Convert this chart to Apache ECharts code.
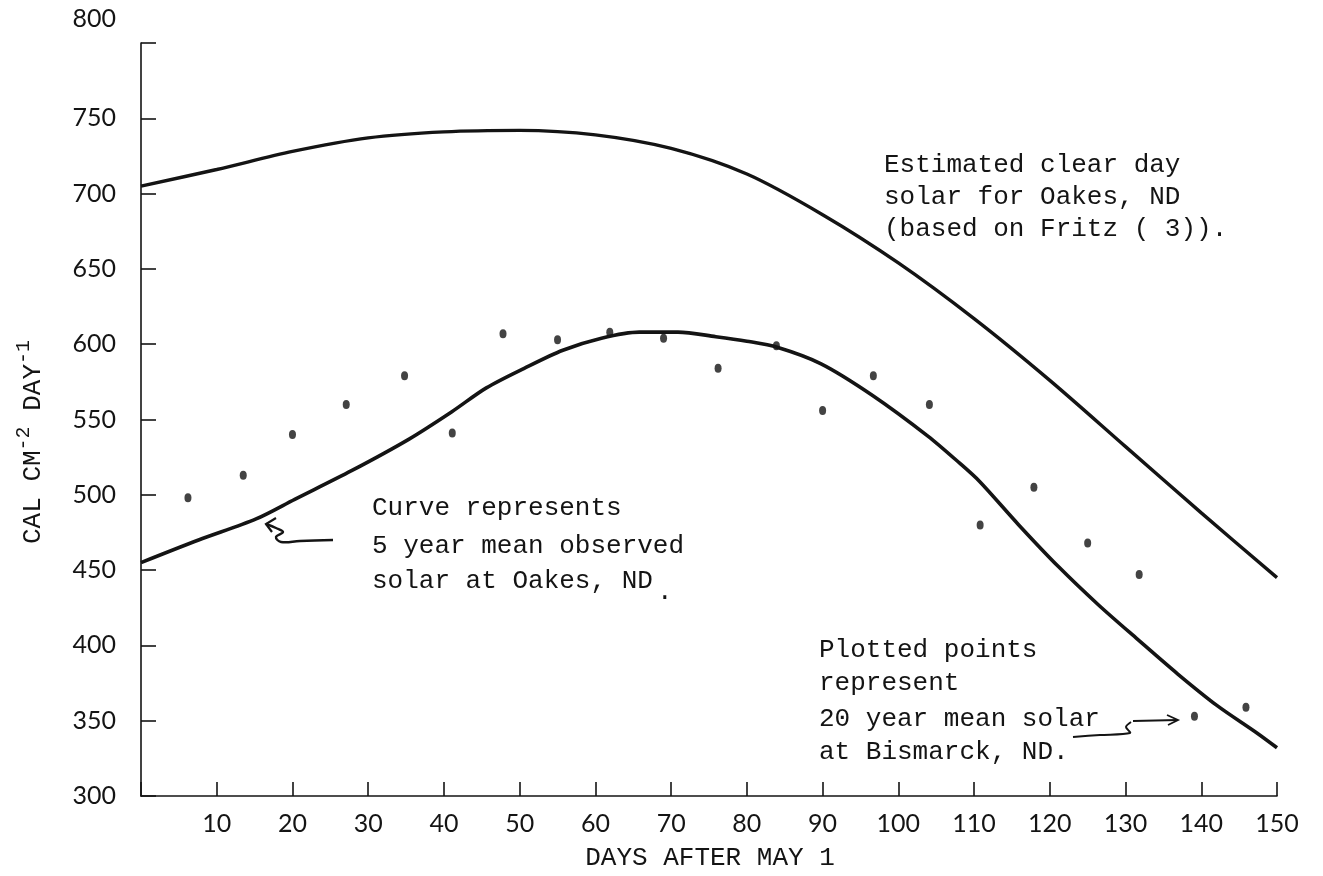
<!DOCTYPE html>
<html>
<head>
<meta charset="utf-8">
<script src="https://cdn.jsdelivr.net/npm/echarts@6/dist/echarts.min.js"></script>
<style>
html,body{margin:0;padding:0;background:#fff;}
#chart{width:1323px;height:876px;}
</style>
</head>
<body>
<div id="chart"></div>
<script>
// Bismarck 20-year mean solar (plotted points)
const pointDays = [6.2, 13.5, 20.0, 27.1, 34.8, 41.1, 47.8, 55.0, 61.9, 69.0, 76.2, 83.9, 90.0, 96.7, 104.1, 110.8, 117.9, 125.0, 131.8, 139.1, 145.9];
const pointVals = [498, 513, 540, 560, 579, 541, 607, 603, 608, 604, 584, 599, 556, 579, 560, 480, 505, 468, 447, 353, 359];

// Estimated clear day solar for Oakes, ND
const clearDays = [0, 10, 20, 30, 40, 50, 60, 70, 80, 90, 100, 110, 120, 130, 140, 150];
const clearVals = [705, 716, 728, 737, 741, 742, 739, 730, 713, 686, 654, 617, 576, 532, 488, 445];

// 5 year mean observed solar at Oakes, ND
const obsDays = [0, 7.6, 15.2, 20.3, 27.8, 35.4, 41, 45.6, 50.6, 55.7, 60.8, 65.8, 70.9, 75.9, 80, 84, 89.8, 96.6, 103.9, 108.1, 110.7, 115.9, 121.2, 126.4, 131.6, 136.9, 142.1, 147.3, 150];
const obsVals = [455, 470, 484, 497, 516, 537, 555, 571, 584, 596, 604, 608, 608, 605, 602, 598, 587, 566, 539, 521, 509, 480, 452, 427, 404, 381, 360, 342, 332];

const xTicks = {min: 0, max: 150, interval: 10};
const yTicks = {min: 300, max: 800, interval: 50};

const mono = "'Liberation Mono', 'DejaVu Sans Mono', monospace";
const sans = "Lato, 'Open Sans', sans-serif";
const ink = '#141414';
const noteFont = '26px ' + mono;

const zip = (a, b) => a.map((v, i) => [v, b[i]]);

const chart = echarts.init(document.getElementById('chart'), null, {renderer: 'canvas'});
chart.setOption({
  backgroundColor: '#ffffff',
  animation: false,
  grid: {left: 141, right: 46, top: 43, bottom: 80, outerBoundsMode: 'none'},
  xAxis: {
    type: 'value', min: xTicks.min, max: xTicks.max, interval: xTicks.interval,
    axisLine: {show: true, onZero: false, lineStyle: {color: ink, width: 1.6}},
    axisTick: {show: true, inside: true, length: 14, lineStyle: {color: ink, width: 1.6}},
    axisLabel: {
      margin: 15, color: ink, fontFamily: sans, fontSize: 25,
      formatter: v => (v === 0 ? '' : String(v))
    },
    splitLine: {show: false}
  },
  yAxis: {
    type: 'value', min: yTicks.min, max: yTicks.max, interval: yTicks.interval,
    axisLine: {show: true, onZero: false, lineStyle: {color: ink, width: 1.6}},
    axisTick: {show: true, inside: true, length: 15, lineStyle: {color: ink, width: 1.6}},
    axisLabel: {
      margin: 25, color: ink, fontFamily: sans, fontSize: 25,
      formatter: v => (v === 800 ? '{top|800}' : String(v)),
      rich: {top: {fontFamily: sans, fontSize: 25, color: ink, padding: [0, 0, 48, 0]}}
    },
    splitLine: {show: false}
  },
  series: [
    {
      name: 'Estimated clear day solar', type: 'line', data: zip(clearDays, clearVals),
      smooth: 0.3, showSymbol: false, lineStyle: {color: ink, width: 3.4}
    },
    {
      name: '5 year mean observed', type: 'line', data: zip(obsDays, obsVals),
      smooth: 0.3, showSymbol: false, lineStyle: {color: ink, width: 3.6}
    },
    {
      name: '20 year mean solar at Bismarck', type: 'scatter', data: zip(pointDays, pointVals),
      symbol: 'circle', symbolSize: [7, 9], itemStyle: {color: ink}
    }
  ],
  graphic: [
    {type: 'text', x: 710, y: 858, style: {text: 'DAYS AFTER MAY 1', font: '26px ' + mono, fill: ink, align: 'center', verticalAlign: 'middle'}},
    {type: 'text', x: 33, y: 442, rotation: Math.PI / 2,
      style: {
        text: '{a|CAL CM}{s|-2}{a| DAY}{s|-1}', fill: ink, align: 'center', verticalAlign: 'middle',
        rich: {
          a: {fontFamily: mono, fontSize: 26, fill: ink, color: ink},
          s: {fontFamily: mono, fontSize: 20, fill: ink, color: ink, padding: [0, 0, 18, 0]}
        }
      }},
    {type: 'text', x: 884, y: 165, style: {text: 'Estimated clear day', font: noteFont, fill: ink, verticalAlign: 'middle'}},
    {type: 'text', x: 884, y: 197, style: {text: 'solar for Oakes, ND', font: noteFont, fill: ink, verticalAlign: 'middle'}},
    {type: 'text', x: 884, y: 229, style: {text: '(based on Fritz ( 3)).', font: noteFont, fill: ink, verticalAlign: 'middle'}},
    {type: 'text', x: 372, y: 508, style: {text: 'Curve represents', font: noteFont, fill: ink, verticalAlign: 'middle'}},
    {type: 'text', x: 372, y: 546, style: {text: '5 year mean observed', font: noteFont, fill: ink, verticalAlign: 'middle'}},
    {type: 'text', x: 372, y: 581, style: {text: 'solar at Oakes, ND', font: noteFont, fill: ink, verticalAlign: 'middle'}},
    {type: 'text', x: 657, y: 592, style: {text: '.', font: noteFont, fill: ink, verticalAlign: 'middle'}},
    {type: 'text', x: 819, y: 650, style: {text: 'Plotted points', font: noteFont, fill: ink, verticalAlign: 'middle'}},
    {type: 'text', x: 819, y: 683, style: {text: 'represent', font: noteFont, fill: ink, verticalAlign: 'middle'}},
    {type: 'text', x: 819, y: 719, style: {text: '20 year mean solar', font: noteFont, fill: ink, verticalAlign: 'middle'}},
    {type: 'text', x: 819, y: 752, style: {text: 'at Bismarck, ND.', font: noteFont, fill: ink, verticalAlign: 'middle'}},
    // hand drawn arrow toward the observed curve
    {type: 'polyline', shape: {points: [[333, 540], [300, 541], [281, 542], [276, 537], [283, 532], [276, 528], [266, 524]], smooth: 0.4},
      style: {stroke: ink, lineWidth: 2.4, fill: null}},
    {type: 'polyline', shape: {points: [[276, 518], [266, 524], [272, 532]]}, style: {stroke: ink, lineWidth: 2.2, fill: null}},
    // hand drawn arrow toward the Bismarck point
    {type: 'polyline', shape: {points: [[1073, 737], [1100, 735], [1130, 733], [1126, 727], [1131, 722]], smooth: 0.3},
      style: {stroke: ink, lineWidth: 2, fill: null}},
    {type: 'polyline', shape: {points: [[1133, 721], [1178, 720]]}, style: {stroke: ink, lineWidth: 1.8, fill: null}},
    {type: 'polyline', shape: {points: [[1167, 715], [1178, 720], [1168, 725]]}, style: {stroke: ink, lineWidth: 1.8, fill: null}}
  ]
});
</script>
</body>
</html>
